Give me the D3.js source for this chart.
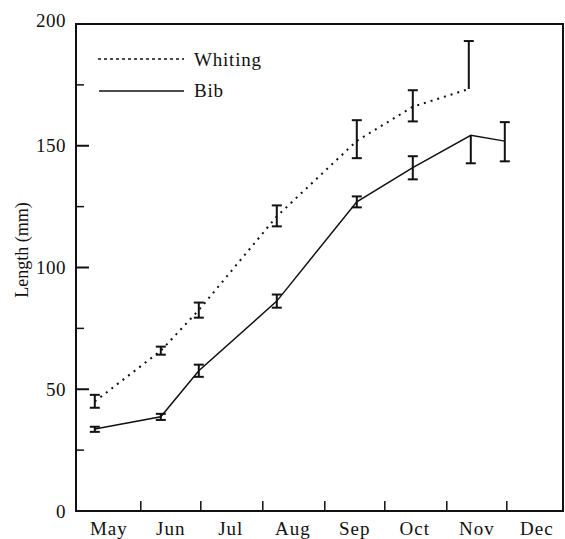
<!DOCTYPE html>
<html>
<head>
<meta charset="utf-8">
<script src="https://cdn.jsdelivr.net/npm/d3@7"></script>
<style>
  body { margin: 0; background: #fff; }
  text { font-family: "Liberation Serif", "Times New Roman", serif; fill: #111; }
</style>
</head>
<body>
<svg id="chart" width="565" height="539"></svg>
<script>
// sampling dates and mean lengths (mm) with error-bar limits
var whitingDates = ["2001-05-09", "2001-06-11", "2001-06-30", "2001-08-08", "2001-09-17", "2001-10-15", "2001-11-12"];
var whitingMean  = [45, 65.8, 82.5, 121, 152, 166, 173.3];
var whitingLo    = [42.4, 64.2, 79.4, 116.9, 144.9, 160, 173.3];
var whitingHi    = [47.7, 67.5, 85.6, 125.5, 160.5, 172.8, 193];

var bibDates = ["2001-05-09", "2001-06-11", "2001-06-30", "2001-08-08", "2001-09-17", "2001-10-15", "2001-11-13", "2001-11-30"];
var bibMean  = [33.7, 38.7, 57.6, 86.2, 127, 141, 154.3, 151.9];
var bibLo    = [32.5, 37.4, 55.1, 83.5, 124.7, 136.2, 142.8, 143.6];
var bibHi    = [34.6, 39.9, 60.1, 88.9, 129.2, 145.7, 154.3, 159.7];

var monthLabels = ["May", "Jun", "Jul", "Aug", "Sep", "Oct", "Nov", "Dec"];
var yMajor = [0, 50, 100, 150, 200];
var yMinor = [25, 75, 125, 175];

var parse = d3.utcParse("%Y-%m-%d");

function rows(dates, mean, lo, hi) {
    return dates.map(function(d, i) {
        return {date: parse(d), mean: mean[i], lo: lo[i], hi: hi[i]};
    });
}
var whiting = rows(whitingDates, whitingMean, whitingLo, whitingHi);
var bib = rows(bibDates, bibMean, bibLo, bibHi);

var svg = d3.select("#chart");
var plotL = 76, plotR = 563, plotT = 24, plotB = 511;

var x = d3.scaleUtc()
    .domain([new Date(Date.UTC(2001, 4, 1)), new Date(Date.UTC(2002, 0, 1))])
    .range([78.8, 568.8]);
var y = d3.scaleLinear().domain([0, 200]).range([plotB, plotT]);

// frame
svg.append("rect")
    .attr("x", plotL).attr("y", plotT)
    .attr("width", plotR - plotL).attr("height", plotB - plotT)
    .attr("fill", "none").attr("stroke", "#111").attr("stroke-width", 2);

// y ticks (inward)
svg.selectAll(".ymaj").data(yMajor).enter().append("line")
    .attr("x1", plotL).attr("x2", plotL + 13)
    .attr("y1", function(d) { return y(d); }).attr("y2", function(d) { return y(d); })
    .attr("stroke", "#111").attr("stroke-width", 2);
svg.selectAll(".ymin").data(yMinor).enter().append("line")
    .attr("x1", plotL).attr("x2", plotL + 8)
    .attr("y1", function(d) { return y(d); }).attr("y2", function(d) { return y(d); })
    .attr("stroke", "#111").attr("stroke-width", 1.5);
svg.selectAll(".ylab").data(yMajor).enter().append("text")
    .attr("x", 66).attr("y", function(d) { return y(d); })
    .attr("dy", function(d) { return d === 200 ? "0.15em" : "0.35em"; })
    .attr("text-anchor", "end")
    .style("font-size", "19px").style("letter-spacing", "0.5px")
    .text(function(d) { return d; });

// x ticks at month boundaries, labels mid-month
var monthStarts = d3.utcMonth.range(new Date(Date.UTC(2001, 5, 1)), new Date(Date.UTC(2002, 0, 1)));
svg.selectAll(".xt").data(monthStarts).enter().append("line")
    .attr("x1", function(d) { return x(d); }).attr("x2", function(d) { return x(d); })
    .attr("y1", plotB).attr("y2", plotB - 10)
    .attr("stroke", "#111").attr("stroke-width", 1.5);
svg.selectAll(".xlab").data(monthLabels).enter().append("text")
    .attr("x", function(d, i) { return x(new Date(Date.UTC(2001, 4 + i, 16))); })
    .attr("y", 535)
    .attr("text-anchor", "middle")
    .style("font-size", "19px").style("letter-spacing", "1px")
    .text(function(d) { return d; });

svg.append("text")
    .attr("transform", "translate(28,250) rotate(-90)")
    .attr("text-anchor", "middle")
    .style("font-size", "18px")
    .text("Length (mm)");

// series lines
var line = d3.line()
    .x(function(d) { return x(d.date); })
    .y(function(d) { return y(d.mean); });

svg.append("path").datum(whiting)
    .attr("d", line).attr("fill", "none")
    .attr("stroke", "#111").attr("stroke-width", 2)
    .attr("stroke-dasharray", "2,5");
svg.append("path").datum(bib)
    .attr("d", line).attr("fill", "none")
    .attr("stroke", "#111").attr("stroke-width", 1.5);

// error bars; a cap is drawn only where the bar extends past the mean
function errorBars(data, cls) {
    var g = svg.append("g").attr("class", cls);
    data.forEach(function(d) {
        var cx = x(d.date);
        g.append("line")
            .attr("x1", cx).attr("x2", cx)
            .attr("y1", y(d.lo)).attr("y2", y(d.hi))
            .attr("stroke", "#111").attr("stroke-width", 2);
        [d.lo, d.hi].forEach(function(v) {
            if (v === d.mean) return;
            g.append("line")
                .attr("x1", cx - 5).attr("x2", cx + 5)
                .attr("y1", y(v)).attr("y2", y(v))
                .attr("stroke", "#111").attr("stroke-width", 2);
        });
    });
}
errorBars(whiting, "err-whiting");
errorBars(bib, "err-bib");

// legend
svg.append("line")
    .attr("x1", 98).attr("x2", 184).attr("y1", 59).attr("y2", 59)
    .attr("stroke", "#111").attr("stroke-width", 1.5).attr("stroke-dasharray", "3,3");
svg.append("text").attr("x", 194).attr("y", 66)
    .style("font-size", "19px").style("letter-spacing", "0.8px").text("Whiting");
svg.append("line")
    .attr("x1", 99).attr("x2", 184).attr("y1", 91).attr("y2", 91)
    .attr("stroke", "#111").attr("stroke-width", 1.5);
svg.append("text").attr("x", 194).attr("y", 97)
    .style("font-size", "19px").style("letter-spacing", "0.8px").text("Bib");
</script>
</body>
</html>
